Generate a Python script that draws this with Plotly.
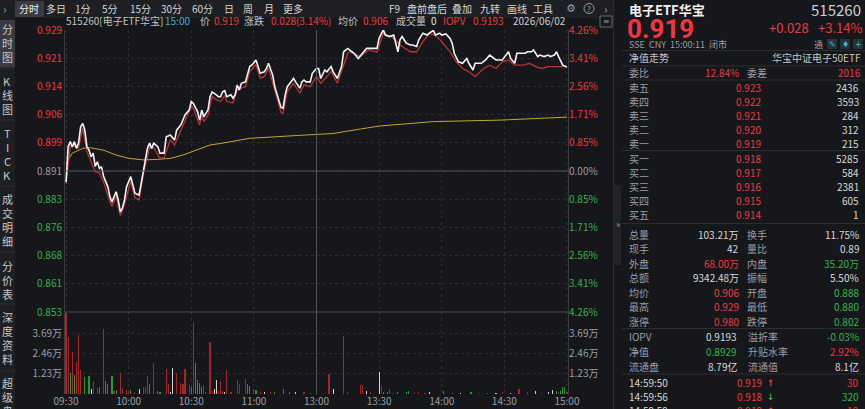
import plotly.graph_objects as go

W, H = 865, 409
FONT = "Noto Sans CJK SC, Noto Sans, sans-serif"

# ---------------- data ----------------
PREV_CLOSE = 0.891
PCT_LIMIT = 4.26      # chart spans +-4.26 %
VOL_MAX = 5.04        # 万

price_time = ["09:30","09:31","09:32","09:33","09:34","09:35","09:36","09:37","09:38","09:39",
              "09:40","09:41","09:42","09:43","09:44","09:45","09:46","09:47","09:48","09:50",
              "09:51","09:52","09:54","09:55","09:56","09:57","09:58","09:59","10:01","10:02",
              "10:03","10:05","10:06","10:07","10:09","10:10","10:11","10:12","10:14","10:15",
              "10:17","10:18","10:20","10:22","10:23","10:25","10:26","10:27","10:29","10:30",
              "10:31","10:33","10:34","10:35","10:36","10:38","10:39","10:40","10:42","10:43",
              "10:44","10:45","10:46","10:47","10:49","10:50","10:51","10:52","10:53","10:54",
              "10:56","10:57","10:58","10:59","11:01","11:02","11:03","11:05","11:06","11:07",
              "11:09","11:10","11:12","11:13","11:14","11:15","11:16","11:18","11:19","11:20",
              "11:22","11:23","11:24","11:25","11:27","11:28","11:30",
              "13:01","13:02","13:04","13:05","13:07","13:08","13:10","13:12","13:13","13:15",
              "13:17","13:18","13:20","13:22","13:24","13:26","13:29","13:30","13:32","13:33",
              "13:35","13:37","13:38","13:39","13:40","13:41","13:43","13:45","13:46","13:48",
              "13:49","13:51","13:53","13:54","13:56","13:57","13:59","14:00","14:02","14:04",
              "14:05","14:06","14:08","14:10","14:12","14:13","14:15","14:16","14:19","14:21",
              "14:23","14:24","14:26","14:28","14:29","14:32","14:33","14:35","14:36","14:38",
              "14:40","14:41","14:43","14:44","14:46","14:47","14:49","14:51","14:52","14:54",
              "14:55","14:56","14:58","15:00"]
price_value = [0.8880,0.8975,0.8989,0.8975,0.8989,0.8971,0.8985,0.9029,0.9038,0.9020,
               0.8975,0.8966,0.8948,0.8958,0.8922,0.8935,0.8917,0.8922,0.8895,0.8868,
               0.8841,0.8827,0.8854,0.8832,0.8800,0.8810,0.8832,0.8868,0.8895,0.8872,
               0.8850,0.8845,0.8877,0.8913,0.8971,0.8985,0.8971,0.8985,0.8975,0.8958,
               0.8958,0.9002,0.9007,0.8993,0.9020,0.9034,0.9047,0.9061,0.9074,0.9097,
               0.9092,0.9070,0.9047,0.9074,0.9056,0.9074,0.9110,0.9123,0.9115,0.9110,
               0.9110,0.9123,0.9126,0.9110,0.9115,0.9106,0.9115,0.9141,0.9128,0.9146,
               0.9150,0.9173,0.9191,0.9195,0.9209,0.9191,0.9173,0.9177,0.9186,0.9200,
               0.9168,0.9137,0.9101,0.9081,0.9079,0.9115,0.9137,0.9150,0.9159,0.9150,
               0.9133,0.9150,0.9155,0.9150,0.9150,0.9173,0.9186,
               0.9186,0.9159,0.9182,0.9177,0.9191,0.9177,0.9159,0.9191,0.9231,0.9240,
               0.9231,0.9227,0.9213,0.9227,0.9240,0.9240,0.9240,0.9267,0.9290,0.9276,
               0.9272,0.9276,0.9254,0.9231,0.9263,0.9272,0.9254,0.9249,0.9249,0.9245,
               0.9263,0.9281,0.9276,0.9281,0.9288,0.9276,0.9281,0.9276,0.9279,0.9267,
               0.9254,0.9227,0.9204,0.9200,0.9213,0.9200,0.9182,0.9200,0.9200,0.9209,
               0.9222,0.9218,0.9209,0.9209,0.9209,0.9231,0.9213,0.9200,0.9227,0.9227,
               0.9227,0.9231,0.9231,0.9236,0.9218,0.9222,0.9218,0.9222,0.9218,0.9222,
               0.9231,0.9218,0.9195,0.9190]

iopv_time = ["09:30","09:32","09:34","09:36","09:38","09:40","09:42","09:44","09:46","09:48",
             "09:51","09:52","09:54","09:56","09:58","10:01","10:03","10:05","10:07","10:10",
             "10:12","10:15","10:17","10:20","10:22","10:25","10:27","10:30","10:31","10:34",
             "10:35","10:36","10:38","10:40","10:42","10:44","10:46","10:47","10:50","10:52",
             "10:54","10:56","10:58","11:01","11:03","11:05","11:07","11:10","11:13","11:14",
             "11:16","11:19","11:22","11:24","11:27","11:30",
             "13:02","13:05","13:07","13:10","13:12","13:15","13:16","13:21","13:25","13:29",
             "13:32","13:36","13:41","13:45","13:48","13:51","13:54","13:57","14:00","14:04",
             "14:07","14:10","14:13","14:16","14:20","14:23","14:26","14:29","14:32","14:35",
             "14:39","14:42","14:45","14:48","14:51","14:55","15:00"]
iopv_value = [0.8875,0.8975,0.8978,0.8972,0.9025,0.8962,0.8935,0.8908,0.8905,0.8880,
              0.8828,0.8815,0.8842,0.8790,0.8820,0.8882,0.8838,0.8832,0.8900,0.8972,
              0.8972,0.8945,0.8946,0.8994,0.8980,0.9020,0.9048,0.9084,0.9079,0.9034,
              0.9060,0.9043,0.9060,0.9110,0.9102,0.9097,0.9113,0.9097,0.9093,0.9128,
              0.9133,0.9137,0.9178,0.9196,0.9160,0.9164,0.9187,0.9124,0.9068,0.9066,
              0.9124,0.9146,0.9120,0.9142,0.9137,0.9165,
              0.9146,0.9164,0.9178,0.9146,0.9178,0.9227,0.9231,0.9218,0.9236,0.9230,
              0.9280,0.9271,0.9245,0.9231,0.9231,0.9258,0.9280,0.9276,0.9258,0.9231,
              0.9204,0.9186,0.9177,0.9164,0.9186,0.9195,0.9186,0.9204,0.9209,0.9195,
              0.9195,0.9200,0.9191,0.9186,0.9191,0.9191,0.9191]

avg_time = ["09:30","09:33","09:38","09:41","09:48","09:54","10:00","10:07","10:13","10:20",
            "10:26","10:32","10:39","10:45","10:58","11:22","13:08","13:21","13:30","13:56",
            "14:28","15:00"]
avg_value = [0.8930,0.8958,0.8971,0.8973,0.8966,0.8953,0.8944,0.8940,0.8941,0.8944,
             0.8953,0.8966,0.8980,0.8985,0.8998,0.9006,0.9011,0.9023,0.9031,0.9043,
             0.9047,0.9055]

# volume in 万 shares; direction u = up (red), d = down (green), f = flat (white)
vol_time = ["09:30","09:31","09:32","09:33","09:34","09:35","09:36","09:37","09:39","09:41",
            "09:42","09:43","09:45","09:46","09:48","09:49","09:50","09:52","09:53","09:54",
            "09:56","09:57","09:59","10:00","10:01","10:03","10:05","10:07","10:08","10:09",
            "10:10","10:12","10:14","10:15","10:18","10:19","10:20","10:21","10:23","10:25",
            "10:26","10:27","10:29","10:30","10:31","10:32","10:33","10:34","10:35","10:36",
            "10:37","10:39","10:40","10:41","10:42","10:43","10:44","10:45","10:46","10:47",
            "10:49","10:52","10:53","10:56","10:57","10:58","11:00","11:01","11:03","11:05",
            "11:08","11:10","11:14","11:17","11:20","11:24","11:27",
            "13:00","13:06","13:08","13:13","13:15","13:21","13:22","13:24","13:26","13:30",
            "13:31","13:32","13:34","13:35","13:37","13:39","13:43","13:44","13:47","13:49",
            "13:52","13:54","14:01","14:05","14:09","14:14","14:18","14:22","14:26","14:29",
            "14:33","14:37","14:41","14:45","14:48","14:51","14:53","14:55","14:56","14:57",
            "14:58","14:59","15:00"]
vol_value = [5.00,3.52,1.27,2.60,1.17,1.99,3.63,1.50,1.07,1.09,
             0.30,0.80,0.39,0.40,3.98,0.80,0.60,1.10,0.20,0.25,
             1.27,0.30,0.25,0.20,0.25,0.15,0.30,0.40,0.40,1.10,
             0.60,1.93,0.20,0.10,1.52,0.60,0.10,1.58,1.27,0.70,
             0.60,1.55,0.55,0.40,4.45,1.89,0.85,0.70,0.40,0.55,
             0.10,3.22,0.20,0.30,0.85,0.20,0.80,0.20,0.10,1.48,
             0.10,0.85,0.60,0.95,0.60,0.50,0.30,0.25,0.15,0.15,
             0.10,0.12,0.28,0.10,0.10,0.10,0.08,
             2.09,1.23,0.30,3.57,0.10,0.55,0.55,0.20,0.15,1.37,
             0.50,0.15,0.10,0.30,0.08,0.10,0.12,0.20,0.06,0.10,
             0.08,0.10,0.20,0.06,0.08,0.15,0.06,0.08,0.06,0.10,
             0.06,0.30,0.15,0.20,0.08,0.10,0.25,0.20,0.15,0.20,
             0.40,0.40,0.10]
vol_dir = ["u","u","d","u","d","u","u","u","d","d",
           "f","u","u","d","u","d","d","d","u","d",
           "u","u","u","u","d","u","f","u","u","u",
           "d","u","d","d","u","u","f","f","u","u",
           "u","u","u","d","u","d","d","d","d","u",
           "u","u","u","f","f","u","u","u","f","u",
           "u","u","u","u","d","d","u","d","u","f",
           "u","d","d","d","f","u","d",
           "u","u","f","u","u","u","u","f","u","f",
           "u","d","d","u","u","d","d","d","u","u",
           "u","f","d","u","f","d","u","d","f","u",
           "f","u","u","f","u","f","f","d","u","d",
           "d","d","u"]

price_tick_labels = ["0.853","0.861","0.868","0.876","0.883","0.891",
                     "0.899","0.906","0.914","0.921","0.929"]
pct_tick_labels = ["4.26%","3.41%","2.56%","1.71%","0.85%","0.00%",
                   "0.85%","1.71%","2.56%","3.41%","4.26%"]
vol_tick_values = [1.23, 2.46, 3.69]
vol_tick_labels = ["1.23万", "2.46万", "3.69万"]
time_tick_labels = ["09:30","10:00","10:30","11:00","13:00","13:30","14:00","14:30","15:00"]

# ---------------- colours ----------------
BG = "#16171b"
BAR_BG = "#1e1f23"
SEL_BG = "#3a3b40"
GRID = "#2c2d33"
AXLINE = "#3a3b41"
RED = "#ec3a40"
GREEN = "#2fb44c"
GRAY = "#9c9ea4"
TXT = "#d8d8d8"
LINE_RED = "#b8323a"
YELLOW = "#c8a42b"
BAR_RED = "#a9232b"
BAR_GREEN = "#1f9a35"
BAR_WHITE = "#d4d4d4"
PS = 10  # right-panel font size


def minute_index(s):
    h, m = map(int, s.split(":"))
    t = h * 60 + m
    return t - 570 if t <= 690 else t - 780 + 120


def px(x):
    return x / W


def py(y):
    return 1 - y / H


annotations = []
shapes = []


def text(x, y, s, color=TXT, size=11, anchor="left", family=FONT):
    annotations.append(dict(x=px(x), y=py(y), xref="paper", yref="paper", text=s,
                            showarrow=False, xanchor=anchor, yanchor="middle",
                            borderpad=0, font=dict(color=color, size=size, family=family)))


def rect(x0, y0, x1, y1, fill, line=None, layer="below"):
    shapes.append(dict(type="rect", xref="paper", yref="paper", x0=px(x0), x1=px(x1),
                       y0=py(y1), y1=py(y0), fillcolor=fill, layer=layer,
                       line=dict(width=0 if line is None else 1, color=line or fill)))


def hline(x0, x1, y, color, width=1):
    shapes.append(dict(type="line", xref="paper", yref="paper", x0=px(x0), x1=px(x1),
                       y0=py(y), y1=py(y), line=dict(color=color, width=width)))


def vline(x, y0, y1, color, width=1):
    shapes.append(dict(type="line", xref="paper", yref="paper", x0=px(x), x1=px(x),
                       y0=py(y0), y1=py(y1), line=dict(color=color, width=width)))


# ---------------- traces ----------------
fig = go.Figure()
fig.add_trace(go.Scatter(x=[minute_index(t) for t in avg_time], y=avg_value, mode="lines",
                         line=dict(color=YELLOW, width=1), xaxis="x", yaxis="y"))
fig.add_trace(go.Scatter(x=[minute_index(t) for t in iopv_time], y=iopv_value, mode="lines",
                         line=dict(color=LINE_RED, width=1.3), xaxis="x", yaxis="y"))
fig.add_trace(go.Scatter(x=[minute_index(t) for t in price_time], y=price_value, mode="lines",
                         line=dict(color="#f4f4f4", width=1.6), xaxis="x", yaxis="y"))
fig.add_trace(go.Scatter(x=[0], y=[PREV_CLOSE], mode="markers", marker=dict(opacity=0),
                         xaxis="x", yaxis="y2"))

for d, col in (("u", BAR_RED), ("d", BAR_GREEN), ("f", BAR_WHITE)):
    xs = [minute_index(t) for t, k in zip(vol_time, vol_dir) if k == d]
    ys = [v for v, k in zip(vol_value, vol_dir) if k == d]
    fig.add_trace(go.Bar(x=xs, y=ys, width=0.55, marker=dict(color=col, line=dict(width=0)),
                         xaxis="x2", yaxis="y3"))
fig.add_trace(go.Scatter(x=[0], y=[0], mode="markers", marker=dict(opacity=0),
                         xaxis="x2", yaxis="y4"))

# ---------------- axes ----------------
price_ticks = [PREV_CLOSE * (1 + k * PCT_LIMIT / 5 / 100) for k in range(-5, 6)]
p_range = [price_ticks[0], price_ticks[-1]]


def col_for(i):
    return GREEN if i < 5 else (GRAY if i == 5 else RED)


left_text = [f'<span style="color:{col_for(i)}">{s}</span>' for i, s in enumerate(price_tick_labels)]
right_text = [f'<span style="color:{col_for(i)}">{s}</span>' for i, s in enumerate(pct_tick_labels)]
time_ticks = [minute_index(t) if t != "13:00" else 120 for t in time_tick_labels]

XD = [px(65), px(568)]
grid = dict(showgrid=True, gridcolor=GRID, griddash="3px,3px", gridwidth=1, zeroline=False,
            automargin=False)
tickfont = dict(size=10, family=FONT, color=GRAY)

fig.update_layout(
    width=W, height=H, autosize=False, margin=dict(l=0, r=0, t=0, b=0, pad=0),
    paper_bgcolor=BG, plot_bgcolor=BG, showlegend=False, hovermode=False, bargap=0,
    font=dict(family=FONT, color=TXT),
    xaxis=dict(domain=XD, range=[-0.5, 240.5], anchor="y", tickvals=time_ticks,
               showticklabels=False, ticks="", fixedrange=True, **grid),
    yaxis=dict(domain=[py(312), py(30)], range=p_range, anchor="x", tickvals=price_ticks,
               ticktext=left_text, ticks="", tickfont=tickfont, showline=True, mirror=True,
               linecolor=AXLINE, fixedrange=True, **grid),
    yaxis2=dict(overlaying="y", side="right", range=p_range, anchor="x", tickvals=price_ticks,
                ticktext=right_text, ticks="", tickfont=tickfont, showgrid=False,
                zeroline=False, fixedrange=True, automargin=False),
    xaxis2=dict(domain=XD, range=[-0.5, 240.5], anchor="y3", tickvals=time_ticks,
                ticktext=time_tick_labels, ticks="", tickfont=dict(size=10, family=FONT, color=GRAY),
                fixedrange=True, **grid),
    yaxis3=dict(domain=[py(394), py(312)], range=[0, VOL_MAX], anchor="x2",
                tickvals=vol_tick_values, ticktext=vol_tick_labels, ticks="", tickfont=tickfont,
                showline=True, mirror=True, linecolor=AXLINE, fixedrange=True, **grid),
    yaxis4=dict(overlaying="y3", side="right", range=[0, VOL_MAX], anchor="x2",
                tickvals=vol_tick_values, ticktext=vol_tick_labels, ticks="", tickfont=tickfont,
                showgrid=False, zeroline=False, fixedrange=True, automargin=False),
)

# reference lines: previous close, lunch break, panel divider
shapes.append(dict(type="line", xref="x domain", yref="y", x0=0, x1=1, y0=PREV_CLOSE,
                   y1=PREV_CLOSE, line=dict(color="#505157", width=1)))
shapes.append(dict(type="line", xref="x", yref="paper", x0=120, x1=120, y0=py(394), y1=py(30),
                   line=dict(color="#54555b", width=1)))
hline(65, 568, 312, "#4a4b51")

# ---------------- chrome: toolbar, sidebar ----------------
rect(0, 0, 613, 18, BAR_BG)
rect(15, 1, 44, 17, SEL_BG)
text(5, 8.5, "›", GRAY, 12, "center")
for x, s in [(29.5, "分时"), (56, "多日"), (83, "1分"), (110, "5分"), (140, "15分"), (171, "30分"),
             (202, "60分"), (229, "日"), (248, "周"), (269, "月"), (293, "更多"), (394, "F9"),
             (427, "盘前盘后"), (462, "叠加"), (490, "九转"), (517, "画线"), (543, "工具")]:
    text(x, 8.5, s, TXT if s != "分时" else "#f0f0f0", 10, "center")
text(571, 8.5, "⚙", GRAY, 11, "center", "DejaVu Sans")
shapes.append(dict(type="circle", xref="paper", yref="paper", x0=px(584), x1=px(594),
                   y0=py(13.5), y1=py(3.5), line=dict(color=GRAY, width=1)))
text(589, 8.5, "?", GRAY, 8, "center")
text(606, 8.5, "›", GRAY, 12, "center")
rect(600, 16, 612, 27, BG, line="#6a6b70")
text(606, 21.5, "≡", GRAY, 8, "center", "DejaVu Sans")

rect(0, 18, 15, 409, BAR_BG)
rect(0, 20, 15, 67, SEL_BG)
sidebar = [("分时图", 29.3), ("K线图", 80.7), ("TICK", 133.3), ("成交明细", 199),
           ("分价表", 266), ("深度资料", 316.7), ("超级盘口", 382.7)]
for label, y0 in sidebar:
    for i, ch in enumerate(label):
        text(7.2, y0 + i * 14, ch, "#c8c8c8", 11, "center")
for y in (68, 120, 186, 252, 304, 371):
    hline(0, 15, y, "#2f3035")

# info row
for x, s, c in [(65, "515260[电子ETF华宝]", "#c4c4c4"), (164, "15:00", "#3ab4c6"),
                (199, "价", "#c4c4c4"), (213, "0.919", RED), (243, "涨跌", "#c4c4c4"),
                (270, "0.028(3.14%)", RED), (337, "均价", "#c4c4c4"), (362, "0.906", RED),
                (395, "成交量", "#c4c4c4"), (430, "0", "#e0e0e0"), (442, "IOPV", RED),
                (472, "0.9193", RED), (512, "2026/06/02", "#d0d0d0")]:
    text(x, 21, s, c, 10)

# ---------------- right quote panel ----------------
vline(613.5, 0, 409, "#2c2d32")
rect(614, 185, 621, 265, "#222327")
text(617.5, 224, "»", GRAY, 9, "center")

text(628, 9.5, "<b>电子ETF华宝</b>", "#f0f0f0", 13)
text(862, 9.5, "515260", "#cfcfcf", 15, "right")
text(626, 28.5, "<b>0.919</b>", "#f2353f", 26, "left", "Roboto, Noto Sans, sans-serif")
text(810, 28, "+0.028", RED, 13, "right")
text(863, 28, "+3.14%", RED, 13, "right")
text(628, 44, "SSE  CNY  15:00:11  闭市", GRAY, 9)
text(818, 44, "通", GRAY, 9, "center")
for x, g in ((832, "✎"), (845, "♦"), (858, "+")):
    rect(x - 5, 39, x + 5, 49, "#23353a")
    text(x, 44, g, "#3fb9c4", 8, "center", "DejaVu Sans")

for y in (50.5, 66, 80, 150.5, 223.5, 328.5, 374):
    hline(622, 865, y, "#2c2d32")

text(628, 58, "净值走势", "#c4c4c4", PS)
text(862, 58, "华宝中证电子50ETF", "#c4c4c4", PS, "right")
text(628, 72.5, "委比", GRAY, PS)
text(740, 72.5, "12.84%", RED, PS, "right")
text(746, 72.5, "委差", GRAY, PS)
text(862, 72.5, "2016", RED, PS, "right")

sell_labels = ["卖五", "卖四", "卖三", "卖二", "卖一"]
sell_prices = ["0.923", "0.922", "0.921", "0.920", "0.919"]
sell_vols = ["2436", "3593", "284", "312", "215"]
buy_labels = ["买一", "买二", "买三", "买四", "买五"]
buy_prices = ["0.918", "0.917", "0.916", "0.915", "0.914"]
buy_vols = ["5285", "584", "2381", "605", "1"]
for i in range(5):
    y = 87.5 + i * 13.9
    text(628, y, sell_labels[i], GRAY, PS)
    text(762, y, sell_prices[i], RED, PS, "right")
    text(860, y, sell_vols[i], TXT, PS, "right")
for i in range(5):
    y = 158.3 + i * 14
    text(628, y, buy_labels[i], GRAY, PS)
    text(762, y, buy_prices[i], RED, PS, "right")
    text(860, y, buy_vols[i], TXT, PS, "right")

CMAP = {"w": TXT, "r": RED, "g": GREEN}
stats = [("总量", "103.21万", "w", "换手", "11.75%", "w"),
         ("现手", "42", "w", "量比", "0.89", "w"),
         ("外盘", "68.00万", "r", "内盘", "35.20万", "g"),
         ("总额", "9342.48万", "w", "振幅", "5.50%", "w"),
         ("均价", "0.906", "r", "开盘", "0.888", "g"),
         ("最高", "0.929", "r", "最低", "0.880", "g"),
         ("涨停", "0.980", "r", "跌停", "0.802", "g")]
for i, (a, av, ac, b, bv, bc) in enumerate(stats):
    y = 234 + i * 14.5
    text(628, y, a, GRAY, PS)
    text(740, y, av, CMAP[ac], PS, "right")
    text(746, y, b, GRAY, PS)
    text(860, y, bv, CMAP[bc], PS, "right")

nav = [("IOPV", "0.9193", "w", "溢折率", "-0.03%", "g"),
       ("净值", "0.8929", "g", "升贴水率", "2.92%", "r"),
       ("流通盘", "8.79亿", "w", "流通值", "8.1亿", "w")]
for i, (a, av, ac, b, bv, bc) in enumerate(nav):
    y = 336.7 + i * 14.7
    text(628, y, a, GRAY, PS)
    text(738, y, av, CMAP[ac], PS, "right")
    text(747, y, b, GRAY, PS)
    text(860, y, bv, CMAP[bc], PS, "right")

trades = [("14:59:50", "0.919", "↑", "30", "r"),
          ("14:59:56", "0.918", "↓", "320", "g"),
          ("14:59:59", "0.919", "↑", "18", "r")]
for i, (tm, pr, ar, vv, c) in enumerate(trades):
    y = 382.7 + i * 14
    text(628, y, tm, TXT, PS)
    text(763, y, pr, RED, PS, "right")
    text(766, y, f"<b>{ar}</b>", CMAP[c], 9, "left", "DejaVu Sans")
    text(860, y, vv, CMAP[c], PS, "right")

fig.update_layout(annotations=annotations, shapes=shapes)
fig.write_html("out.html", config={"displayModeBar": False, "staticPlot": True},
               post_script="document.body.style.margin='0';document.body.style.padding='0';"
                           "document.body.style.overflow='hidden';document.body.style.background='#16171b';")
